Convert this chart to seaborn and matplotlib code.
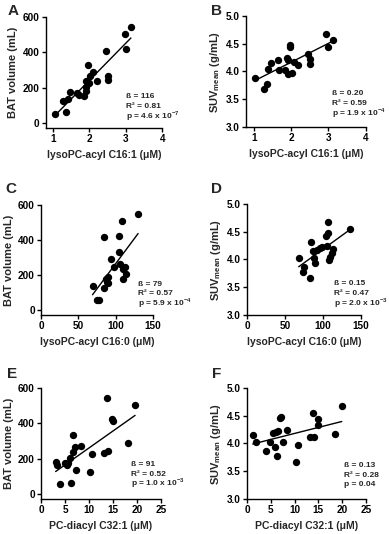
import matplotlib
matplotlib.use('Agg')
import matplotlib.pyplot as plt
import seaborn as sns

# panel A: lysoPC-acyl C16:1 vs BAT volume
a_x = [1.05, 1.27, 1.36, 1.41, 1.47, 1.67, 1.71, 1.86, 1.90, 1.92, 1.91, 1.95, 2.00, 2.02, 2.09, 2.20, 2.45, 2.50, 2.50, 2.97, 3.00, 3.14]
a_y = [54, 125, 60, 134, 177, 171, 160, 153, 181, 240, 205, 330, 227, 265, 287, 237, 410, 265, 246, 501, 419, 544]

# panel B: lysoPC-acyl C16:1 vs SUVmean
b_x = [1.04, 1.27, 1.36, 1.39, 1.47, 1.66, 1.69, 1.84, 1.90, 1.92, 1.91, 1.96, 1.98, 2.02, 2.07, 2.20, 2.45, 2.50, 2.50, 2.94, 2.99, 3.12]
b_y = [3.88, 3.68, 3.78, 4.04, 4.16, 4.20, 4.02, 4.02, 4.25, 4.20, 3.95, 4.44, 4.48, 3.98, 4.17, 4.11, 4.32, 4.23, 4.13, 4.67, 4.44, 4.56]

# panel C: lysoPC-acyl C16:0 vs BAT volume
c_x = [69, 75, 77, 84, 84, 87, 89, 90, 90, 94, 98, 104, 105, 106, 109, 110, 112, 110, 114, 130]
c_y = [135, 60, 56, 416, 126, 178, 160, 187, 154, 290, 244, 422, 332, 266, 506, 234, 247, 178, 206, 547]

# panel D: lysoPC-acyl C16:0 vs SUVmean
d_x = [68, 75, 74, 83, 84, 87, 88, 90, 92, 96, 99, 105, 104, 106, 107, 108, 109, 112, 113, 135]
d_y = [4.02, 3.87, 3.77, 3.67, 4.31, 4.16, 4.02, 3.93, 4.17, 4.20, 4.23, 4.25, 4.43, 4.48, 4.67, 3.99, 4.05, 4.11, 4.19, 4.55]

# panel E: PC-diacyl C32:1 vs BAT volume
e_x = [3.05, 3.4, 3.96, 5.0, 5.35, 5.7, 6.0, 6.2, 6.6, 6.6, 7.15, 7.3, 8.3, 10.2, 10.55, 13.1, 13.7, 13.9, 14.7, 14.9, 18.2, 19.6]
e_y = [182, 163, 56, 174, 163, 174, 202, 60, 240, 332, 266, 135, 270, 127, 225, 232, 544, 244, 425, 412, 289, 506]

# panel F: PC-diacyl C32:1 vs SUVmean
f_x = [1.2, 1.9, 4.06, 4.9, 5.4, 5.8, 6.15, 6.3, 6.5, 6.85, 7.2, 7.5, 8.4, 10.35, 10.7, 13.3, 13.8, 14.0, 14.9, 14.9, 18.5, 19.9]
f_y = [4.16, 4.02, 3.87, 4.02, 4.19, 3.93, 4.20, 3.78, 4.22, 4.45, 4.48, 4.02, 4.25, 3.66, 3.98, 4.11, 4.55, 4.11, 4.44, 4.33, 4.17, 4.67]

# stats text for each panel
stats_text = [
    ['ß = 116', 'R² = 0.81', r'p = 4.6 x 10$^{\mathbf{-7}}$'],
    ['ß = 0.20', 'R² = 0.59', r'p = 1.9 x 10$^{\mathbf{-4}}$'],
    ['ß = 79', 'R² = 0.57', r'p = 5.9 x 10$^{\mathbf{-4}}$'],
    ['ß = 0.15', 'R² = 0.47', r'p = 2.0 x 10$^{\mathbf{-3}}$'],
    ['ß = 91', 'R² = 0.52', r'p = 1.0 x 10$^{\mathbf{-3}}$'],
    ['ß = 0.13', 'R² = 0.28', 'p = 0.04'],
]
panel_letters = ['A', 'B', 'C', 'D', 'E', 'F']
x_labels = ['lysoPC-acyl C16:1 (μM)', 'lysoPC-acyl C16:1 (μM)',
            'lysoPC-acyl C16:0 (μM)', 'lysoPC-acyl C16:0 (μM)',
            'PC-diacyl C32:1 (μM)', 'PC-diacyl C32:1 (μM)']
bat_label = 'BAT volume (mL)'
suv_label = r'SUV$_{\mathbf{mean}}$ (g/mL)'

sns.set_style('ticks')
plt.rcParams['font.family'] = ['Liberation Sans', 'DejaVu Sans']
plt.rcParams['font.weight'] = 'bold'
plt.rcParams['axes.labelweight'] = 'bold'
plt.rcParams['mathtext.fontset'] = 'custom'
plt.rcParams['mathtext.rm'] = 'Liberation Sans:bold'
plt.rcParams['mathtext.bf'] = 'Liberation Sans:bold'

fig = plt.figure(figsize=(3.89, 5.34), dpi=100)

# axes boxes in figure fractions (left, bottom, width, height)
boxes = [
    [0.1175, 0.7603, 0.2995, 0.2079],
    [0.6330, 0.7622, 0.3070, 0.2079],
    [0.1054, 0.4101, 0.2880, 0.2060],
    [0.6350, 0.4101, 0.2930, 0.2080],
    [0.1054, 0.0655, 0.3085, 0.2080],
    [0.6350, 0.0655, 0.3060, 0.2080],
]
data = [(a_x, a_y), (b_x, b_y), (c_x, c_y), (d_x, d_y), (e_x, e_y), (f_x, f_y)]
x_ticks = [[1, 2, 3, 4], [1, 2, 3, 4], [0, 50, 100, 150], [0, 50, 100, 150],
           [0, 5, 10, 15, 20, 25], [0, 5, 10, 15, 20, 25]]
x_lims = [(0.8, 4), (0.8, 4), (0, 150), (0, 150), (0, 25), (0, 25)]
text_pos = [(0.69, 0.28), (0.72, 0.30), (0.87, 0.28), (0.76, 0.28), (0.75, 0.31), (0.815, 0.30)]
letter_pos = [(13, 11), (217, 11), (11, 189), (216, 189), (12, 374), (217, 374)]

for i in range(6):
    ax = fig.add_axes(boxes[i])
    x, y = data[i]
    sns.regplot(x=x, y=y, ci=None, color='black', ax=ax,
                scatter_kws={'s': 28, 'linewidths': 0, 'alpha': 1},
                line_kws={'lw': 1})
    sns.despine(ax=ax)
    ax.set_xlim(x_lims[i])
    ax.set_xticks(x_ticks[i])
    if i % 2 == 0:
        # BAT volume panels
        ax.set_ylim(-28, 600)
        ax.set_yticks([0, 200, 400, 600])
        ax.set_ylabel(bat_label, fontsize=8, labelpad=3)
    else:
        # SUV panels
        ax.set_ylim(3.0, 5.0)
        ax.set_yticks([3.0, 3.5, 4.0, 4.5, 5.0])
        ax.set_yticklabels(['3.0', '3.5', '4.0', '4.5', '5.0'])
        ax.set_ylabel(suv_label, fontsize=8, labelpad=3)
    ax.set_xlabel(x_labels[i], fontsize=7.5, labelpad=4)
    ax.tick_params(axis='both', labelsize=7.2, width=1, length=3, pad=1.5, colors='black')
    for sp in ['left', 'bottom']:
        ax.spines[sp].set_linewidth(1)
        ax.spines[sp].set_color('black')
    ax.grid(False)

    # stats annotation
    tx, ty = text_pos[i]
    for j, line in enumerate(stats_text[i]):
        ax.text(tx, ty - j * 0.085, line, transform=ax.transAxes, fontsize=6,
                fontweight='bold', va='center', ha='left')

    # panel letter
    lx, ly = letter_pos[i]
    fig.text(lx / 389, 1 - ly / 534, panel_letters[i], fontsize=11,
             fontweight='bold', ha='center', va='center')

plt.savefig('out.png', dpi=100)
